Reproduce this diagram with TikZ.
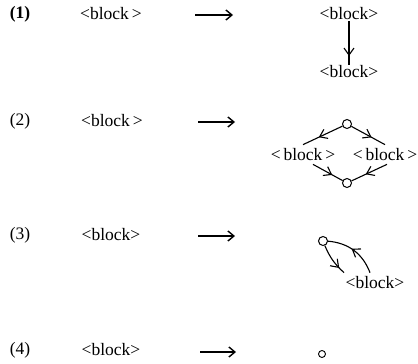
\documentclass[tikz,border=0pt]{standalone}
\usepackage{fontspec}
\setmainfont{Liberation Serif}
\usetikzlibrary{arrows.meta,decorations.markings}
\begin{document}
\begin{tikzpicture}[x=1pt,y=-1pt,
  every node/.style={font=\fontsize{17.5}{20}\selectfont, inner sep=1pt},
  lbl/.style={anchor=center},
  blk/.style={anchor=center},
  dot/.style={circle, draw, line width=1pt, minimum size=9pt, inner sep=0pt},
  smalldot/.style={circle, draw, line width=0.9pt, minimum size=7pt, inner sep=0pt},
  rewrite/.style={line width=1.2pt, -{Straight Barb[length=6pt,width=10pt,line width=1.4pt]}},
  edge/.style={line width=1.1pt},
  midarrow/.style={edge, postaction={decorate}, decoration={markings,
     mark=at position #1 with {\arrow{Straight Barb[length=7pt,width=10pt,line width=1.1pt]}}}}
]
\useasboundingbox (0,0) rectangle (418,364);

% ---------- rule (1): sequence ----------
\node[lbl] (n1) at (20,14) {\bfseries (1)};
\node[blk] (l1) at (111,14) {<block\,>};
\coordinate (a1s) at (195,15);
\coordinate (a1e) at (233,15);
\draw[rewrite] (a1s) -- (a1e);
\node[blk] (r1a) at (349,14) {<block>};
\node[blk] (r1b) at (349,72) {<block>};
\draw[midarrow=0.8] (r1a.south) -- (r1b.north);

% ---------- rule (2): alternative ----------
\node[lbl] (n2) at (20,121) {(2)};
\node[blk] (l2) at (112,121) {<block\,>};
\coordinate (a2s) at (198,122);
\coordinate (a2e) at (235,122);
\draw[rewrite] (a2s) -- (a2e);
\node[dot] (top2) at (347,124) {};
\node[dot] (bot2) at (347,183) {};
\node[blk] (lb2) at (303,155) {<\,block\,>};
\node[blk] (rb2) at (385,155) {<\,block\,>};
\draw[midarrow=0.6] (top2) -- ([yshift=3pt]lb2.north);
\draw[midarrow=0.6] (top2) -- ([xshift=0pt,yshift=3pt]rb2.north);
\draw[midarrow=0.65] ([xshift=10pt,yshift=-2pt]lb2.south) -- (bot2);
\draw[midarrow=0.6] ([xshift=2pt,yshift=-2pt]rb2.south) -- (bot2);

% ---------- rule (3): loop ----------
\node[lbl] (n3) at (20,235) {(3)};
\node[blk] (l3) at (111,235) {<block>};
\coordinate (a3s) at (198,236);
\coordinate (a3e) at (235,236);
\draw[rewrite] (a3s) -- (a3e);
\node[dot] (c3) at (323,241) {};
\node[blk] (b3) at (375,283) {<block>};
\draw[midarrow=0.8] (c3) to[bend right=12] ([xshift=-31pt,yshift=3pt]b3.north);
\draw[midarrow=0.55] ([xshift=-5pt,yshift=3pt]b3.north) to[bend right=32] (c3);

% ---------- rule (4): empty ----------
\node[lbl] (n4) at (20,350) {(4)};
\node[blk] (l4) at (111,350) {<block>};
\coordinate (a4s) at (200,352);
\coordinate (a4e) at (236,352);
\draw[rewrite] (a4s) -- (a4e);
\node[smalldot] (c4) at (322,354) {};
\end{tikzpicture}
\end{document}
